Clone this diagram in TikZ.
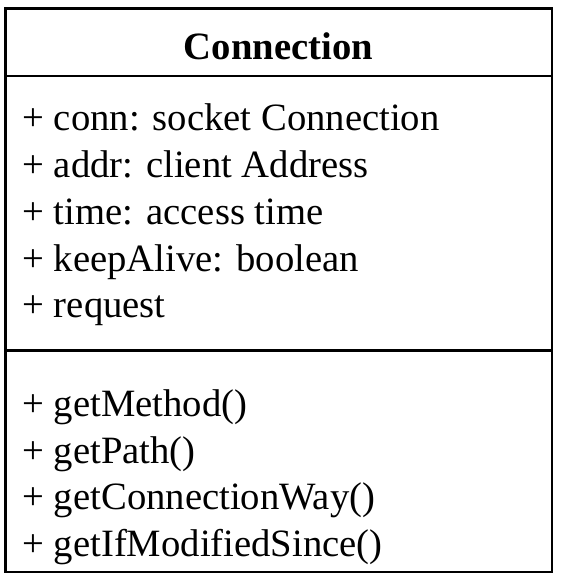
\documentclass[tikz,border=0pt]{standalone}
\usepackage{fontspec}
\setmainfont{Liberation Serif}

\tikzset{every picture/.style={line width=0.75pt}}
\tikzset{member/.style={anchor=base west,inner sep=0pt,font=\fontsize{29}{35}\selectfont}}

\begin{document}
\begin{tikzpicture}[x=0.75pt,y=0.75pt,yscale=-1,xscale=1]
\useasboundingbox (0,0) rectangle (560,584);

%Shape: Rectangle [id:classbox] 
\draw  [line width=1.6pt] (5.5,8.5) -- (551.7,8.5) -- (551.7,572.3) -- (5.5,572.3) -- cycle ;
%Straight Lines [id:namedivider] 
\draw  [line width=1.6pt] (5.5,76) -- (551.7,76) ;
%Straight Lines [id:attrdivider] 
\draw  [line width=1.6pt] (5.5,350.5) -- (551.7,350.5) ;

% Text Node
\draw (278.5,60) node (classname) [anchor=base,inner sep=0pt,font=\fontsize{29}{35}\selectfont\bfseries] {Connection};
% Text Node
\draw (22,131) node (conn) [member] {+ conn: socket Connection};
% Text Node
\draw (22,177.7) node (addr) [member] {+ addr: client Address};
% Text Node
\draw (22,224.4) node (time) [member] {+ time: access time};
% Text Node
\draw (22,271.1) node (keepalive) [member] {+ keepAlive: boolean};
% Text Node
\draw (22,317.8) node (request) [member] {+ request};
% Text Node
\draw (22,416.5) node (getmethod) [member] {+ getMethod()};
% Text Node
\draw (22,463) node (getpath) [member] {+ getPath()};
% Text Node
\draw (22,509.5) node (getway) [member] {+ getConnectionWay()};
% Text Node
\draw (22,556) node (getmodified) [member] {+ getIfModifiedSince()};

\end{tikzpicture}
\end{document}
